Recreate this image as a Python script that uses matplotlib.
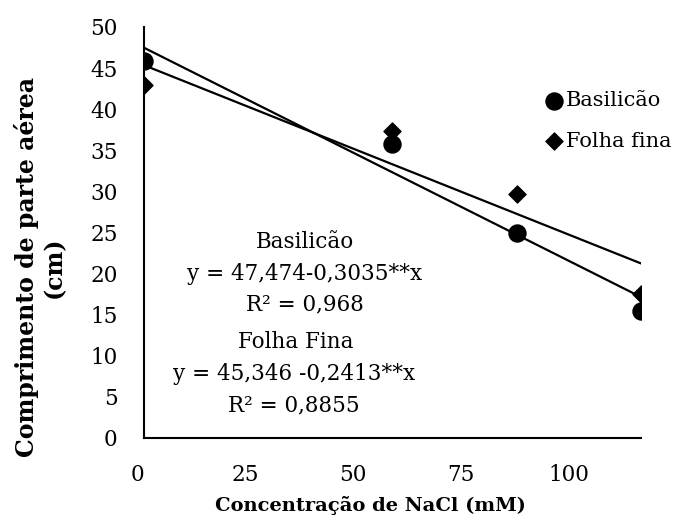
import matplotlib
matplotlib.use("Agg")
import matplotlib.pyplot as plt
import matplotlib.transforms as mtransforms
import numpy as np

# concentration of NaCl (mM)
nacl = [0, 50, 75, 100]
basilicao = [45.8, 35.7, 24.9, 15.4]
folha_fina = [42.9, 37.3, 29.7, 17.5]

# fitted lines
fit_bas = (47.474, -0.3035)
fit_ff = (45.346, -0.2413)

xtick_labels = ["0", "25", "50", "75", "100"]
yticks = np.arange(0, 51, 5)

plt.rcParams['font.family'] = ['DejaVu Serif']

fig = plt.figure(figsize=(6.79, 5.23), dpi=100)
ax = fig.add_axes([0.2121, 0.1631, 0.944 - 0.2121, 0.9484 - 0.1631])

ax.scatter(nacl, basilicao, marker='o', s=150, color='black', label='Basilicão', zorder=3)
ax.scatter(nacl, folha_fina, marker='D', s=75, color='black', label='Folha fina', zorder=3)

xs = np.array([0, 100])
ax.plot(xs, fit_bas[0] + fit_bas[1] * xs, color='black', lw=1.6)
ax.plot(xs, fit_ff[0] + fit_ff[1] * xs, color='black', lw=1.6)

ax.set_yticks(yticks)
ax.tick_params(axis='y', length=0, pad=19, labelsize=15.5)
# the x labels in the original sit in a text box, not under the data
ax.set_xticks(np.linspace(0, 87, 5))
ax.set_xticklabels(xtick_labels)
ax.tick_params(axis='x', length=0, pad=19, labelsize=15.5)
ax.set_xlim(0, 100)
ax.set_ylim(0, 50)
shift = mtransforms.ScaledTranslation(-7 / 100, 0, fig.dpi_scale_trans)
for lab in ax.get_xticklabels():
    lab.set_transform(lab.get_transform() + shift)

for s in ['top', 'right']:
    ax.spines[s].set_visible(False)
for s in ['left', 'bottom']:
    ax.spines[s].set_linewidth(1.5)

ax.set_xlabel('Concentração de NaCl (mM)', fontsize=14, fontweight='bold')
ax.xaxis.set_label_coords(0.455, -0.143)
ax.set_ylabel('Comprimento de parte aérea\n(cm)', fontsize=17, fontweight='bold',
              linespacing=1.18)
ax.yaxis.set_label_coords(-0.157, 0.416)

ax.legend(loc='center left', bbox_to_anchor=(541 / 679, 1 - 121 / 523),
          bbox_transform=fig.transFigure, frameon=False, fontsize=15,
          handletextpad=0.0, labelspacing=1.05, markerscale=1.0, borderaxespad=0,
          borderpad=0, handlelength=1.2)

txt = dict(fontsize=15.5, ha='center', va='center', transform=fig.transFigure)
fig.text(305 / 679, 1 - 242 / 523, 'Basilicão', **txt)
fig.text(305 / 679, 1 - 274 / 523, 'y = 47,474-0,3035**x', **txt)
fig.text(305 / 679, 1 - 304 / 523, 'R² = 0,968', **txt)
fig.text(296 / 679, 1 - 342 / 523, 'Folha Fina', **txt)
fig.text(294 / 679, 1 - 374 / 523, 'y = 45,346 -0,2413**x', **txt)
fig.text(294 / 679, 1 - 405 / 523, 'R² = 0,8855', **txt)

fig.savefig('out.png', dpi=100)
